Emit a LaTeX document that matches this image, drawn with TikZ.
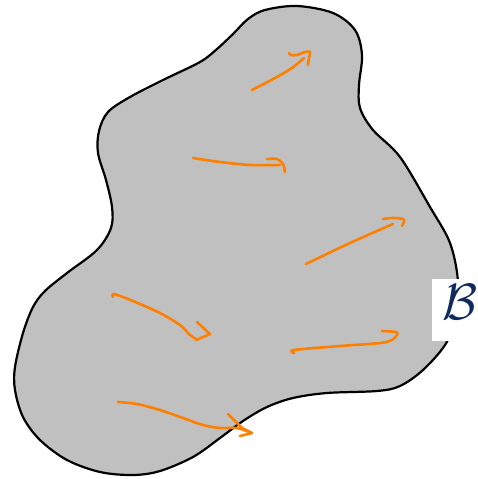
\documentclass[tikz,border=0pt]{standalone}
\usetikzlibrary{calc}
\definecolor{blobgray}{RGB}{192,192,192}
\definecolor{arrorange}{RGB}{255,128,0}
\definecolor{bblue}{RGB}{16,42,94}
\tikzset{
  blob/.style={fill=blobgray, draw=black, line width=2.2pt},
  arr/.style={draw=arrorange, line width=2.6pt, line cap=round, line join=round},
  labelbox/.style={fill=white, draw=none, minimum width=46pt, minimum height=62pt, inner sep=0pt},
  labeltext/.style={text=bblue, inner sep=0pt, font=\Huge, scale=2.05}
}
\begin{document}
\begin{tikzpicture}[x=1pt, y=-1pt]
\useasboundingbox (0,0) rectangle (478,479);
% body
\draw[blob] plot[smooth cycle, tension=0.55] coordinates {
 (297,6) (333,13) (355,30) (362,55) (359,85) (360,108) (373,130) (400,157)
 (430,207) (450,243) (458,282) (455,320) (445,345) (423,370) (400,386)
 (377,391) (327,393) (293,398) (267,407) (243,421) (220,438) (193,457)
 (160,471) (133,475) (100,472) (67,460) (40,440) (23,417) (15,390)
 (15,367) (23,333) (33,307) (45,291) (67,273) (97,250) (111,228) (112,207)
 (106,180) (98,153) (99,131) (108,112) (130,97) (163,80) (200,62)
 (217,49) (233,34) (248,19) (265,10)};
% arrows
\draw[arr] plot[smooth] coordinates {(252,90) (275,78) (292,68) (304,58)};
\draw[arr] plot[smooth] coordinates {(289,53) (291,55) (297,55) (305,52) (310,52) (309,58) (308,65)};

\draw[arr] plot[smooth] coordinates {(193,158) (220,162) (250,165) (280,165)};
\draw[arr] plot[smooth] coordinates {(267,159) (277,159) (283,164) (285,172)};

\draw[arr] plot[smooth] coordinates {(306,264) (350,243) (393,224)};
\draw[arr] plot[smooth] coordinates {(383,219) (393,218) (403,219) (404,222) (402,226)};

\draw[arr] plot[smooth] coordinates {(113,297) (114,294) (133,301) (160,313) (180,325) (190,335) (196,339)};
\draw[arr] (197,322) -- (210,334) -- (196,340);

\draw[arr] plot[smooth] coordinates {(294,353) (294,350) (340,346) (380,343) (392,340) (397,335) (396,332) (382,331)};

\draw[arr] plot[smooth] coordinates {(118,402) (137,404) (160,410) (183,418) (203,425) (220,428) (237,428) (249,432)};
\draw[arr] plot[smooth] coordinates {(228,414) (235,421) (242,428)};
\draw[arr] (242,428) -- (252,433) -- (240,436);
% label
\node[labelbox] (Bbox) at (455,310) {};
\node[labeltext] (B) at (460,302) {$\mathcal{B}$};
\end{tikzpicture}
\end{document}
